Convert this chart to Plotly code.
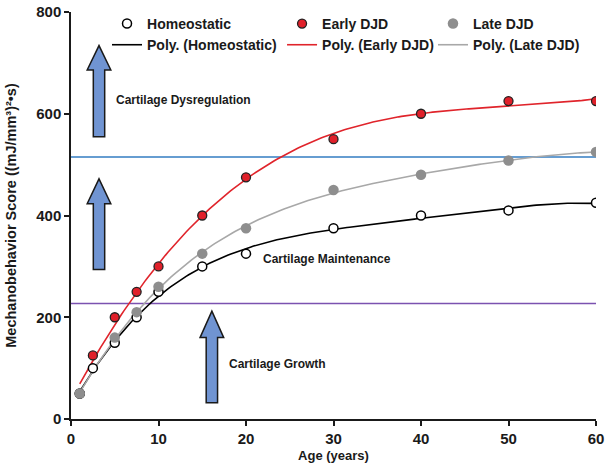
import numpy as np
import plotly.graph_objects as go

# ---- data ----
age_homeo = [1, 2.5, 5, 7.5, 10, 15, 20, 30, 40, 50, 60]
score_homeo = [50, 100, 150, 200, 250, 300, 325, 375, 400, 410, 425]

age_early = [1, 2.5, 5, 7.5, 10, 15, 20, 30, 40, 50, 60]
score_early = [50, 125, 200, 250, 300, 400, 475, 550, 600, 625, 625]

age_late = [1, 5, 7.5, 10, 15, 20, 30, 40, 50, 60]
score_late = [50, 160, 210, 260, 325, 375, 450, 480, 508, 525]

threshold_dysreg = 515
threshold_growth = 227

x_ticks = [0, 10, 20, 30, 40, 50, 60]
y_ticks = [0, 200, 400, 600, 800]

# polynomial trendline order per series
deg_homeo, deg_early, deg_late = 4, 3, 4

FONT = "Liberation Sans"
fig = go.Figure()

def poly_curve(xs, ys, deg):
    c = np.polyfit(xs, ys, deg)
    xx = np.linspace(min(xs), max(xs), 200)
    return xx, np.polyval(c, xx)

# threshold lines
fig.add_trace(go.Scatter(x=[0, 60], y=[threshold_dysreg] * 2, mode="lines",
                         line=dict(color="#337CC2", width=1.6), showlegend=False, hoverinfo="skip"))
fig.add_trace(go.Scatter(x=[0, 60], y=[threshold_growth] * 2, mode="lines",
                         line=dict(color="#7B52B0", width=1.6), showlegend=False, hoverinfo="skip"))

# trend lines
for xs, ys, deg, name, color, lg in [
    (age_homeo, score_homeo, deg_homeo, "Poly. (Homeostatic)", "#000000", "legend"),
    (age_early, score_early, deg_early, "Poly. (Early DJD)", "#E0242B", "legend2"),
    (age_late, score_late, deg_late, "Poly. (Late DJD)", "#A8A8A8", "legend3"),
]:
    xx, yy = poly_curve(xs, ys, deg)
    fig.add_trace(go.Scatter(x=xx, y=yy, mode="lines", name=name, legend=lg, legendrank=2,
                             line=dict(color=color, width=1.6)))

# data points
fig.add_trace(go.Scatter(x=age_homeo, y=score_homeo, mode="markers", name="Homeostatic",
                         legend="legend", legendrank=1,
                         marker=dict(size=9, color="white", line=dict(color="black", width=1.5))))
fig.add_trace(go.Scatter(x=age_early, y=score_early, mode="markers", name="Early DJD",
                         legend="legend2", legendrank=1,
                         marker=dict(size=9, color="#E0202A", line=dict(color="#222222", width=1.3))))
fig.add_trace(go.Scatter(x=age_late, y=score_late, mode="markers", name="Late DJD",
                         legend="legend3", legendrank=1,
                         marker=dict(size=10.5, color="#8E8E8E", line=dict(width=0))))

# block arrows (data coords)
def arrow_path(xc, y_bot, y_headbase, y_tip, shaft_hw=0.65, head_hw=1.35):
    return (f"M {xc-shaft_hw},{y_bot} L {xc-shaft_hw},{y_headbase} L {xc-head_hw},{y_headbase} "
            f"L {xc},{y_tip} L {xc+head_hw},{y_headbase} L {xc+shaft_hw},{y_headbase} "
            f"L {xc+shaft_hw},{y_bot} Z")

for xc, yb, yh, yt in [(3.2, 555, 686, 734), (3.2, 294, 423, 472), (16.1, 32, 160, 212)]:
    fig.add_shape(type="path", path=arrow_path(xc, yb, yh, yt), xref="x", yref="y",
                  fillcolor="#7094D2", line=dict(color="#1a1a1a", width=1.5), layer="above")

ann_font = dict(family=FONT, size=12, color="#1a1a1a", weight="bold")
for txt, xv, yv in [("Cartilage Dysregulation", 4.95, 628),
                    ("Cartilage Maintenance", 21.7, 314),
                    ("Cartilage Growth", 17.8, 109)]:
    fig.add_annotation(text=txt, x=xv, y=yv, xref="x", yref="y", showarrow=False,
                       xanchor="left", yanchor="middle", font=ann_font)

leg_common = dict(orientation="v", yanchor="top", xanchor="left", y=1.01,
                  bgcolor="rgba(0,0,0,0)", tracegroupgap=0,
                  font=dict(family=FONT, size=14, color="#1a1a1a", weight="bold"))

fig.update_layout(
    width=608, height=472,
    margin=dict(l=71, r=12, t=8, b=53),
    paper_bgcolor="white", plot_bgcolor="white",
    font=dict(family=FONT, color="#1a1a1a"),
    legend=dict(x=0.0686, **leg_common),
    legend2=dict(x=0.402, **leg_common),
    legend3=dict(x=0.6895, **leg_common),
    xaxis=dict(range=[0, 60], tickvals=x_ticks, showgrid=False, zeroline=False,
               showline=True, linecolor="#1a1a1a", linewidth=1.5, automargin=False,
               ticks="outside", ticklen=5, tickwidth=1.5, tickcolor="#1a1a1a",
               tickfont=dict(family=FONT, size=15, weight="bold", color="#1a1a1a"),
               title=dict(text="Age (years)", standoff=5,
                          font=dict(family=FONT, size=13, weight="bold", color="#1a1a1a"))),
    yaxis=dict(range=[0, 800], tickvals=y_ticks, showgrid=False, zeroline=False,
               showline=True, linecolor="#1a1a1a", linewidth=1.5, automargin=False,
               ticks="outside", ticklen=5, tickwidth=1.5, tickcolor="#1a1a1a",
               tickfont=dict(family=FONT, size=15, weight="bold", color="#1a1a1a"),
               title=dict(text="Mechanobehavior Score ((mJ/mm³)²•s)", standoff=16,
                          font=dict(family=FONT, size=14.5, weight="bold", color="#1a1a1a"))),
)

fig.write_html("out.html", config={"displayModeBar": False},
               post_script="document.body.style.margin='0';")
